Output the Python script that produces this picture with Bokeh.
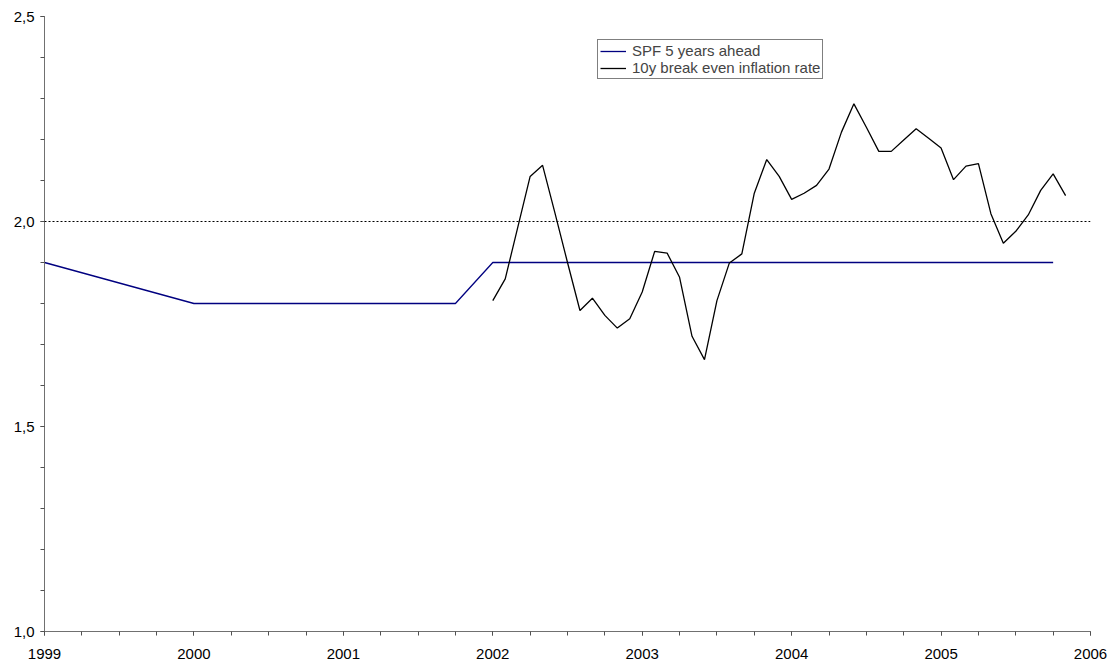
from bokeh.plotting import figure
from bokeh.models import FixedTicker, Span, Legend, LegendItem
from bokeh.embed import file_html
from bokeh.resources import INLINE

# SPF 5 years ahead (decimal year, value)
spf_dates = [1999.0, 2000.0, 2001.75, 2002.0, 2005.75]
spf_values = [1.9, 1.8, 1.8, 1.9, 1.9]

# 10y break even inflation rate, monthly from Jan 2002
bei_start_year = 2002
bei_values = [1.807, 1.860, 1.985, 2.110, 2.137, 2.020, 1.900, 1.783, 1.813, 1.771, 1.740, 1.763,
              1.828, 1.927, 1.923, 1.864, 1.720, 1.663, 1.807, 1.899, 1.921, 2.069, 2.151, 2.110,
              2.054, 2.069, 2.088, 2.128, 2.218, 2.287, 2.230, 2.171, 2.171, 2.199, 2.226, 2.203,
              2.179, 2.102, 2.135, 2.141, 2.019, 1.947, 1.976, 2.016, 2.076, 2.116, 2.063]
bei_dates = [bei_start_year + i / 12 for i in range(len(bei_values))]

reference_level = 2.0

year_ticks = [1999, 2000, 2001, 2002, 2003, 2004, 2005, 2006]
year_labels = ["1999", "2000", "2001", "2002", "2003", "2004", "2005", "2006"]
y_ticks = [1.0, 1.5, 2.0, 2.5]
y_labels = ["1,0", "1,5", "2,0", "2,5"]

FONT = "Liberation Sans"

p = figure(width=1108, height=662, x_range=(1999, 2006), y_range=(1.0, 2.5),
           output_backend="svg", toolbar_location=None,
           min_border_left=44, min_border_right=18, min_border_top=16, min_border_bottom=31)
p.outline_line_color = None
p.xgrid.visible = False
p.ygrid.visible = False
p.background_fill_color = "white"
p.border_fill_color = "white"

# axes
minor_x = [1999 + q / 4 for q in range(0, 29)]
p.xaxis.ticker = FixedTicker(ticks=year_ticks, minor_ticks=minor_x)
p.xaxis.major_label_overrides = {t: l for t, l in zip(year_ticks, year_labels)}
minor_y = [round(1.0 + k / 10, 2) for k in range(16)]
p.yaxis.ticker = FixedTicker(ticks=y_ticks, minor_ticks=minor_y)
p.yaxis.major_label_overrides = {t: l for t, l in zip(y_ticks, y_labels)}

for ax in (p.xaxis[0], p.yaxis[0]):
    ax.axis_line_color = "#707070"
    ax.axis_line_width = 1
    ax.major_tick_line_color = "#505050"
    ax.minor_tick_line_color = "#505050"
    ax.major_tick_in = 0
    ax.minor_tick_in = 0
    ax.major_tick_out = 4
    ax.minor_tick_out = 4
    ax.major_label_text_font = FONT
    ax.major_label_text_font_size = "15px"
    ax.major_label_text_color = "black"
p.xaxis.major_label_standoff = 13
p.yaxis.major_label_standoff = 6

# reference dotted line
p.add_layout(Span(location=reference_level, dimension="width", line_color="black",
                  line_width=1, line_dash="2 2"))

r_spf = p.line(spf_dates, spf_values, line_color="#000080", line_width=1.3)
r_bei = p.line(bei_dates, bei_values, line_color="black", line_width=1.3)

legend = Legend(items=[LegendItem(label="SPF 5 years ahead", renderers=[r_spf]),
                       LegendItem(label="10y break even inflation rate", renderers=[r_bei])],
                location=(553, 552))
legend.label_text_font = FONT
legend.label_text_font_size = "15px"
legend.label_standoff = 6
legend.label_height = 12
legend.glyph_width = 26
legend.glyph_height = 12
legend.spacing = 0
legend.padding = 2
legend.margin = 0
legend.border_line_color = "black"
legend.border_line_width = 1
legend.background_fill_color = "white"
legend.background_fill_alpha = 1
p.add_layout(legend)

open("out.html", "w").write(file_html(p, INLINE))
